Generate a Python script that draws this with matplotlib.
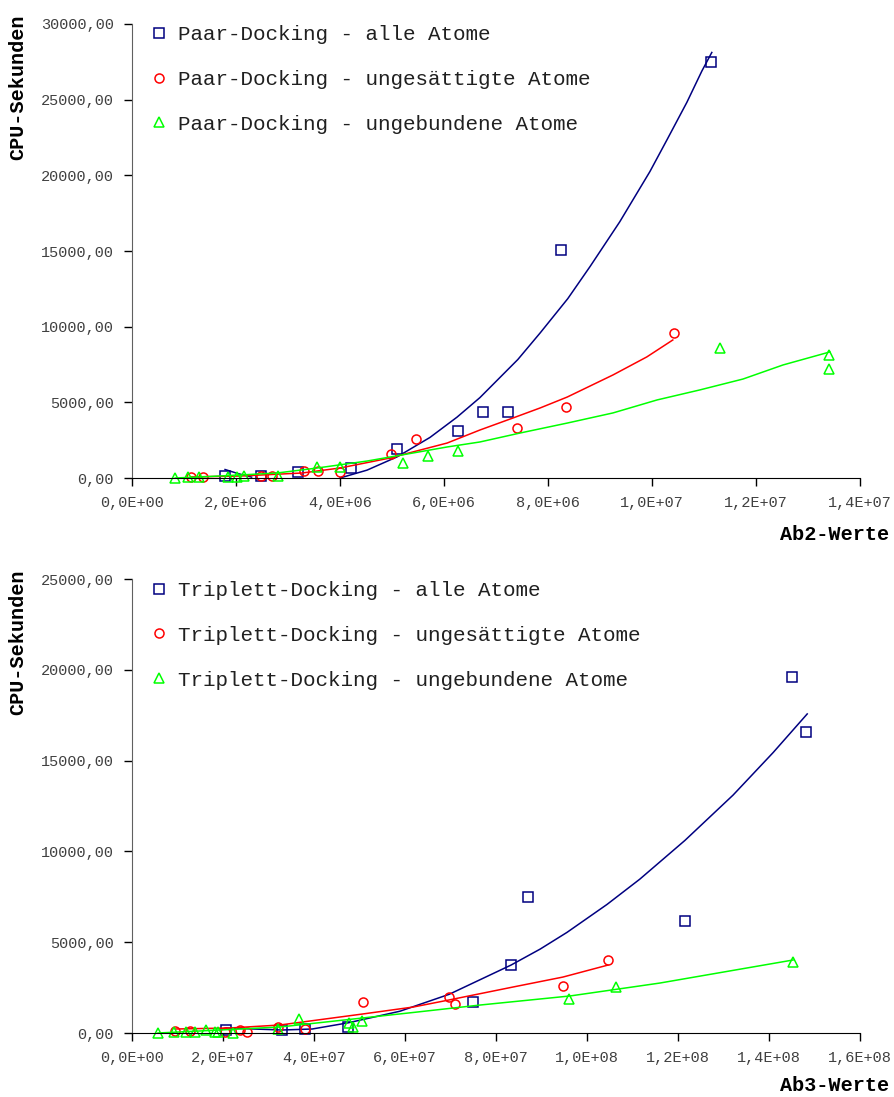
import numpy as np
from matplotlib import pyplot as plt
from matplotlib.ticker import FuncFormatter, MultipleLocator


FONT = ['Liberation Mono', 'DejaVu Sans Mono']
BLUE = '#000080'
RED = '#ff0000'
GREEN = '#00ff00'

# --- Ab2 (Paar-Docking), x in units of 1E6 ---
ab2_all_x = [1.79, 2.48, 3.19, 4.21, 5.10, 6.27, 6.75, 7.23, 8.25, 11.13]
ab2_all_y = [130, 130, 400, 660, 1920, 3110, 4360, 4360, 15070, 27500]
ab2_uns_x = [1.13, 1.37, 2.48, 2.69, 3.31, 3.58, 4.00, 4.98, 5.46, 7.40, 8.35, 10.42]
ab2_uns_y = [70, 70, 130, 130, 460, 460, 400, 1590, 2580, 3300, 4690, 9600]
ab2_ung_x = [0.83, 1.08, 1.29, 1.85, 2.02, 2.15, 2.81, 3.56, 4.00, 5.21, 5.69, 6.27,
             11.31, 13.40, 13.40]
ab2_ung_y = [0, 70, 70, 70, 70, 130, 130, 730, 730, 990, 1450, 1790, 8590, 8130, 7200]

# trend lines (nan = part below the axis)
ab2_all_tx = [1.79, 2.05, 2.30, np.nan, 4.00, 4.52, 5.10, 5.73, 6.25, 6.69, 7.42, 7.85,
              8.38, 8.81, 9.38, 9.96, 10.29, 10.67, 10.96, 11.15]
ab2_all_ty = [560, 280, 60, np.nan, 0, 520, 1400, 2680, 4020, 5310, 7830, 9590,
              11850, 13980, 16930, 20250, 22360, 24820, 26900, 28120]
ab2_uns_tx = [1.13, 2.08, 3.27, 4.00, 4.96, 5.40, 6.06, 6.69, 7.33, 7.85, 8.37, 9.25,
              9.90, 10.40]
ab2_uns_ty = [70, 130, 330, 660, 1320, 1720, 2310, 3170, 3970, 4630, 5350, 6810,
              8000, 9120]
ab2_ung_tx = [0.83, 1.31, 2.08, 2.79, 3.56, 4.52, 5.40, 6.06, 6.69, 7.46, 8.37, 9.25,
              10.10, 10.92, 11.75, 12.52, 13.42]
ab2_ung_ty = [0, 70, 200, 330, 660, 1120, 1650, 2050, 2380, 2970, 3630, 4300, 5160,
              5820, 6540, 7470, 8330]

# --- Ab3 (Triplett-Docking), x in units of 1E7 ---
ab3_all_x = [2.07, 3.30, 3.80, 4.75, 7.49, 8.33, 8.70, 12.15, 14.51, 14.81]
ab3_all_y = [165, 165, 220, 330, 1710, 3740, 7490, 6170, 19600, 16580]
ab3_uns_x = [0.95, 1.27, 2.04, 2.37, 2.53, 3.21, 3.80, 5.08, 6.97, 7.10, 9.47, 10.46]
ab3_uns_y = [110, 110, 55, 165, 55, 330, 220, 1710, 1980, 1600, 2590, 4020]
ab3_ung_x = [0.57, 0.92, 1.19, 1.38, 1.63, 1.82, 1.89, 2.22, 3.21, 3.67, 4.77, 4.86,
             5.05, 9.60, 10.64, 14.53]
ab3_ung_y = [0, 55, 55, 55, 165, 55, 55, 0, 220, 770, 550, 330, 660, 1870, 2530, 3910]

ab3_all_tx = [2.07, 3.30, 3.96, 4.75, 5.89, 6.97, 8.33, 8.97, 9.56, 10.44, 11.16, 12.15,
              13.21, 14.09, 14.84]
ab3_all_ty = [275, 165, 220, 560, 1200, 2130, 3740, 4620, 5540, 7080, 8470, 10600,
              13100, 15440, 17570]
ab3_uns_tx = [0.95, 2.15, 3.25, 5.08, 6.18, 6.97, 8.37, 9.47, 10.46]
ab3_uns_ty = [220, 275, 440, 1050, 1430, 1820, 2530, 3080, 3740]
ab3_ung_tx = [0.57, 1.93, 3.25, 6.18, 7.65, 9.63, 11.60, 14.53]
ab3_ung_ty = [0, 165, 330, 1130, 1540, 2040, 2750, 4020]

PAAR_LABELS = ['Paar-Docking - alle Atome',
               'Paar-Docking - ungesättigte Atome',
               'Paar-Docking - ungebundene Atome']
TRIP_LABELS = ['Triplett-Docking - alle Atome',
               'Triplett-Docking - ungesättigte Atome',
               'Triplett-Docking - ungebundene Atome']


def y_fmt(v, pos):
    return ('%.2f' % v).replace('.', ',')


def x_fmt(v, pos):
    return ('%.1E' % v).replace('.', ',')


def panel(ax, scale, series, trends, labels, xmax, ymax, xstep, xlabel,
          leg_y, xlab_y):
    colors = [BLUE, RED, GREEN]
    markers = ['s', 'o', '^']
    handles = []
    for (x, y), (tx, ty), c, m, lab in zip(series, trends, colors, markers, labels):
        ax.plot(np.array(tx) * scale, ty, color=c, lw=1.1)
        h, = ax.plot(np.array(x) * scale, y, ls='none', marker=m, ms=6.5,
                     mfc='none', mec=c, mew=1.1, clip_on=False, label=lab)
        handles.append(h)

    ax.set_xlim(0, xmax)
    ax.set_ylim(0, ymax)
    ax.xaxis.set_major_locator(MultipleLocator(xstep))
    ax.yaxis.set_major_locator(MultipleLocator(5000))
    ax.xaxis.set_major_formatter(FuncFormatter(x_fmt))
    ax.yaxis.set_major_formatter(FuncFormatter(y_fmt))

    for s in ['top', 'right']:
        ax.spines[s].set_visible(False)
    ax.spines['left'].set_color('#606060')
    ax.spines['bottom'].set_color('black')
    ax.tick_params(direction='out', length=6, width=1, pad=7,
                   labelsize=11, labelcolor='#404040')
    for t in ax.get_xticklabels() + ax.get_yticklabels():
        t.set_family(FONT)

    ax.legend(handles=handles, loc='upper left', bbox_to_anchor=(0.0, leg_y),
              frameon=False, prop={'family': FONT, 'size': 15},
              handlelength=1.2, handletextpad=0.32, labelspacing=1.24,
              borderaxespad=0.3, labelcolor='#202020')

    ax.text(1.04, xlab_y, xlabel, transform=ax.transAxes, ha='right', va='center',
            family=FONT, weight='bold', fontsize=14.5)
    ax.text(-0.157, 0.86, 'CPU-Sekunden', transform=ax.transAxes, rotation=90,
            ha='center', va='center', family=FONT, weight='bold', fontsize=14.5)


def main():
    W, H = 895, 1097
    fig = plt.figure(figsize=(W / 100, H / 100), dpi=100)

    left, right = 132 / W, 860 / W
    ax1 = fig.add_axes([left, 1 - 478 / H, right - left, (478 - 24) / H])
    ax2 = fig.add_axes([left, 1 - 1033 / H, right - left, (1033 - 579) / H])

    panel(ax1, 1e6,
          [(ab2_all_x, ab2_all_y), (ab2_uns_x, ab2_uns_y), (ab2_ung_x, ab2_ung_y)],
          [(ab2_all_tx, ab2_all_ty), (ab2_uns_tx, ab2_uns_ty), (ab2_ung_tx, ab2_ung_ty)],
          PAAR_LABELS, 1.4e7, 30000, 2e6, 'Ab2-Werte', 1.030, -0.125)
    panel(ax2, 1e7,
          [(ab3_all_x, ab3_all_y), (ab3_uns_x, ab3_uns_y), (ab3_ung_x, ab3_ung_y)],
          [(ab3_all_tx, ab3_all_ty), (ab3_uns_tx, ab3_uns_ty), (ab3_ung_tx, ab3_ung_ty)],
          TRIP_LABELS, 1.6e8, 25000, 2e7, 'Ab3-Werte', 1.028, -0.115)

    fig.savefig('out.png', dpi=100)


if __name__ == '__main__':
    main()
